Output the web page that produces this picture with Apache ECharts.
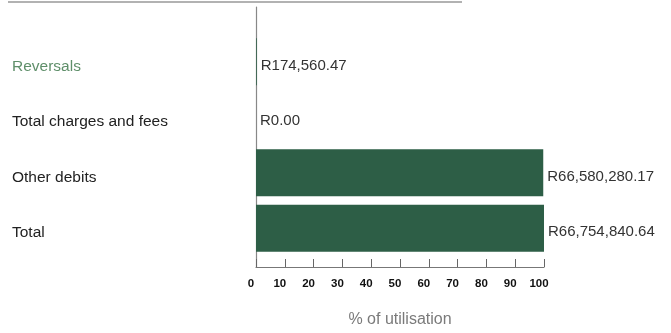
<!DOCTYPE html>
<html>
<head>
<meta charset="utf-8">
<style>html,body{margin:0;padding:0;background:#fff}#c{width:671px;height:333px}</style>
<script src="https://cdn.jsdelivr.net/npm/echarts@6/dist/echarts.min.js"></script>
</head>
<body>
<div id="c"></div>
<script>
var categories = ["Reversals", "Total charges and fees", "Other debits", "Total"];
var utilisation = [0.26, 0, 99.74, 100];
var amountLabels = ["R174,560.47", "R0.00", "R66,580,280.17", "R66,754,840.64"];
var tickValues = [0, 10, 20, 30, 40, 50, 60, 70, 80, 90, 100];

var chart = echarts.init(document.getElementById('c'), null, {renderer: 'canvas'});
var font = '"Liberation Sans", Arial, sans-serif';
chart.setOption({
  animation: false,
  textStyle: {fontFamily: font},
  grid: [
    {left: 256, top: 34, width: 288, height: 222},
    {left: 256, top: 7, width: 288, height: 276}
  ],
  xAxis: [
    {gridIndex: 0, type: 'value', min: 0, max: 100, show: false},
    {gridIndex: 1, type: 'value', min: 0, max: 100, interval: 10,
     axisLine: {show: true, lineStyle: {color: '#777', width: 1.2}},
     axisTick: {show: true, inside: true, length: 8, lineStyle: {color: '#666'}},
     splitLine: {show: false},
     axisLabel: {color: '#111', fontSize: 11.5, fontWeight: 'bold', margin: 11,
       padding: [0, 10, 0, 0],
       formatter: function (v) { return tickValues.indexOf(v) >= 0 ? String(v) : ''; }},
     name: '% of utilisation', nameLocation: 'middle', nameGap: 45,
     nameTextStyle: {color: '#7a7a7a', fontSize: 16}}
  ],
  yAxis: [
    {gridIndex: 0, type: 'category', data: categories, inverse: true,
     axisLine: {show: false}, axisTick: {show: false},
     axisLabel: {align: 'left', verticalAlign: 'top', lineHeight: 9, margin: 244, fontSize: 15.5,
       color: function (v, i) { return i === 0 ? '#5f8f6a' : '#222'; }}},
    {gridIndex: 1, type: 'value', min: 0, max: 1,
     axisLine: {show: true, lineStyle: {color: '#888', width: 1.2}},
     axisTick: {show: false}, axisLabel: {show: false}, splitLine: {show: false}}
  ],
  series: [{
    type: 'bar', xAxisIndex: 0, yAxisIndex: 0,
    data: utilisation, barWidth: 47,
    itemStyle: {color: '#2d5e46'},
    label: {show: true, position: 'right', distance: 4, fontSize: 15, color: '#333',
      offset: [0, 4],
      formatter: function (p) { return amountLabels[p.dataIndex]; }}
  }],
  graphic: [{
    type: 'line', shape: {x1: 8, y1: 2, x2: 462, y2: 2},
    style: {stroke: '#999', lineWidth: 1.5}
  }]
});
</script>
</body>
</html>
